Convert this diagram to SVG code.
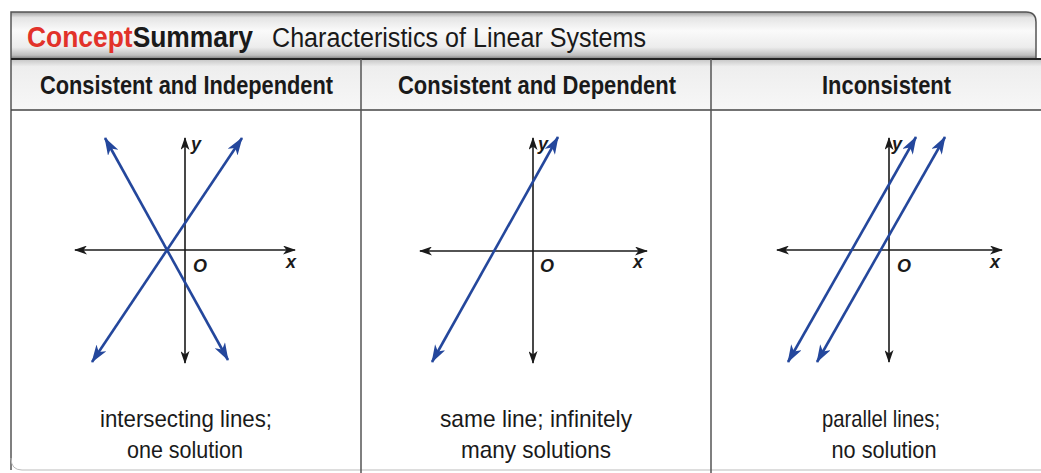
<svg xmlns="http://www.w3.org/2000/svg" width="1041" height="473" viewBox="0 0 1041 473">
<defs>
<linearGradient id="titleGrad" x1="0" y1="0" x2="0" y2="1">
<stop offset="0" stop-color="#a0a0a0"/>
<stop offset="0.12" stop-color="#e4e4e4"/>
<stop offset="0.4" stop-color="#fafafa"/>
<stop offset="0.75" stop-color="#ececec"/>
<stop offset="0.92" stop-color="#bdbdbd"/>
<stop offset="1" stop-color="#777777"/>
</linearGradient>
<linearGradient id="headGrad" x1="0" y1="0" x2="0" y2="1">
<stop offset="0" stop-color="#c4c4c4"/>
<stop offset="0.15" stop-color="#eeeeee"/>
<stop offset="1" stop-color="#f7f7f7"/>
</linearGradient>
<marker id="blueArrow" markerUnits="userSpaceOnUse" markerWidth="18" markerHeight="12" viewBox="0 0 18 12" refX="17" refY="6" orient="auto-start-reverse">
<path d="M0,0 L18,6 L0,12 L5,6 z" fill="#24479c"/>
</marker>
<marker id="blackArrow" markerUnits="userSpaceOnUse" markerWidth="13" markerHeight="9" viewBox="0 0 13 9" refX="12" refY="4.5" orient="auto-start-reverse">
<path d="M0,0 L13,4.5 L0,9 L3.5,4.5 z" fill="#1a1a1a"/>
</marker>
<style>
.frame{fill:none;stroke:#555;stroke-width:1.5}
.div{stroke:#555;stroke-width:1.5}
.axis{stroke:#1a1a1a;stroke-width:1.6;marker-start:url(#blackArrow);marker-end:url(#blackArrow)}
.ln{stroke:#24479c;stroke-width:2.6;marker-start:url(#blueArrow);marker-end:url(#blueArrow)}
.lab{font-family:"Liberation Sans",Arial,sans-serif;font-weight:bold;font-style:italic;font-size:18px;fill:#1a1a1a}
.hdr{font-family:"Liberation Sans",Arial,sans-serif;font-weight:bold;font-size:25px;fill:#1a1a1a}
.cap{font-family:"Liberation Sans",Arial,sans-serif;font-size:24px;fill:#1a1a1a}
</style>
</defs>
<rect width="1041" height="473" fill="#ffffff"/>
<g id="frame">
<path d="M11,59 L11,12 L1026,12 Q1036,12 1036,22 L1036,59 Z" fill="url(#titleGrad)" stroke="none"/>
<rect x="11" y="59" width="1030" height="51" fill="url(#headGrad)"/>
<path class="frame" d="M11,470 L11,12 L1026,12 Q1036,12 1036,22 L1036,59"/>
<line x1="11" y1="59" x2="1041" y2="59" stroke="#222" stroke-width="2"/>
<line x1="11" y1="110" x2="1041" y2="110" stroke="#444" stroke-width="1.5"/>
<path d="M11,458 Q11,470 22,470 L1041,470" fill="none" stroke="#bbb" stroke-width="1"/>
<line class="div" x1="361" y1="59" x2="361" y2="473"/>
<line class="div" x1="711" y1="59" x2="711" y2="473"/>
</g>
<g id="title">
<text x="27" y="47" font-family="Liberation Sans,Arial,sans-serif" font-weight="bold" font-size="30" fill="#1a1a1a" textLength="226" lengthAdjust="spacingAndGlyphs"><tspan fill="#e2322a">Concept</tspan>Summary</text>
<text x="272" y="47" font-family="Liberation Sans,Arial,sans-serif" font-size="27" fill="#1a1a1a" textLength="374" lengthAdjust="spacingAndGlyphs">Characteristics of Linear Systems</text>
</g>
<g id="panel1">
<text class="hdr" x="186.5" y="94" text-anchor="middle" textLength="293" lengthAdjust="spacingAndGlyphs">Consistent and Independent</text>
<text class="cap" x="186" y="427" text-anchor="middle" textLength="172" lengthAdjust="spacingAndGlyphs">intersecting lines;</text>
<text class="cap" x="185" y="458" text-anchor="middle" textLength="116" lengthAdjust="spacingAndGlyphs">one solution</text>
</g>
<g id="panel2">
<text class="hdr" x="537" y="94" text-anchor="middle" textLength="278" lengthAdjust="spacingAndGlyphs">Consistent and Dependent</text>
<text class="cap" x="536" y="427" text-anchor="middle" textLength="192" lengthAdjust="spacingAndGlyphs">same line; infinitely</text>
<text class="cap" x="536" y="458" text-anchor="middle" textLength="150" lengthAdjust="spacingAndGlyphs">many solutions</text>
</g>
<g id="panel3">
<text class="hdr" x="886.5" y="94" text-anchor="middle" textLength="129" lengthAdjust="spacingAndGlyphs">Inconsistent</text>
<text class="cap" x="881" y="427" text-anchor="middle" textLength="118" lengthAdjust="spacingAndGlyphs">parallel lines;</text>
<text class="cap" x="884" y="458" text-anchor="middle" textLength="105" lengthAdjust="spacingAndGlyphs">no solution</text>
</g>
<g id="graph1">
<line class="axis" x1="75" y1="250" x2="295" y2="250"/>
<line class="axis" x1="185" y1="363" x2="185" y2="138"/>
<text class="lab" x="191" y="150">y</text>
<text class="lab" x="193" y="272">O</text>
<text class="lab" x="286" y="268">x</text>
</g>
<g id="graph2">
<line class="axis" x1="420" y1="251" x2="647" y2="251"/>
<line class="axis" x1="533" y1="363" x2="533" y2="138"/>
<text class="lab" x="538" y="150">y</text>
<text class="lab" x="540" y="272">O</text>
<text class="lab" x="633" y="268">x</text>
</g>
<g id="graph3">
<line class="axis" x1="777" y1="250" x2="1002" y2="250"/>
<line class="axis" x1="889" y1="362" x2="889" y2="138"/>
<text class="lab" x="892" y="150">y</text>
<text class="lab" x="897" y="272">O</text>
<text class="lab" x="990" y="268">x</text>
</g>
<g id="connectors">
<line class="ln" x1="105" y1="138" x2="228" y2="360"/>
<line class="ln" x1="92" y1="362" x2="242" y2="138"/>
<line class="ln" x1="432" y1="362" x2="558" y2="137"/>
<line class="ln" x1="788" y1="362" x2="916" y2="137"/>
<line class="ln" x1="817" y1="362" x2="945" y2="137"/>
</g>
</svg>
